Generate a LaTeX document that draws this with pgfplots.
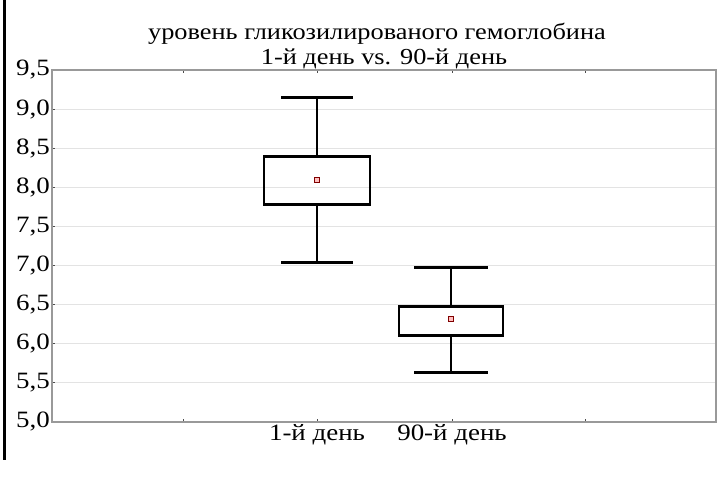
\documentclass[border=0pt]{standalone}
\usepackage{fontspec}
\setmainfont{Liberation Serif}[FakeStretch=1.15]
\usepackage{pgfplots}
\pgfplotsset{compat=1.18}
\usepgfplotslibrary{statistics}
\begin{document}
\begin{tikzpicture}
\path[use as bounding box] (0bp,0bp) rectangle (717bp,477bp);
\draw[line width=3bp] (4bp,477bp) -- (4bp,17bp);
\begin{axis}[
  at={(52bp,55bp)}, anchor=south west,
  scale only axis, width=664bp, height=352bp,
  xmin=0.52, xmax=7.16, ymin=5, ymax=9.5,
  ytick={5.0,5.5,6.0,6.5,7.0,7.5,8.0,8.5,9.0,9.5},
  xtick={1.83,3.17,4.52,5.85},
  xticklabels={,1-й день,90-й день,},
  xtick pos=both, ytick pos=left,
  tick align=inside,
  major tick length=3bp,
  tick style={black!70, line width=0.8bp},
  axis line style={gray!80, line width=1.5bp},
  ymajorgrids, grid style={gray!22, line width=1bp},
  boxplot/draw direction=y,
  /pgf/number format/assume math mode=true,
  /pgf/number format/.cd, use comma, fixed, fixed zerofill, precision=1,
  /pgfplots/.cd,
  ticklabel style={font=\fontsize{23.5}{23.5}\selectfont},
  yticklabel style={inner sep=1bp, xshift=-1bp},
  xticklabel style={inner sep=1bp, yshift=-1bp},
]
\addplot[black, line width=2.8bp, boxplot prepared={
  draw position=3.17, lower whisker=7.04, lower quartile=7.78,
  median=7.78, upper quartile=8.39, upper whisker=9.15,
  box extend=1.06, whisker extend=0.72}] coordinates {};
\addplot[black, line width=2.8bp, boxplot prepared={
  draw position=4.51, lower whisker=5.63, lower quartile=6.11,
  median=6.11, upper quartile=6.48, upper whisker=6.98,
  box extend=1.04, whisker extend=0.74}] coordinates {};
\addplot[only marks, mark=square*, mark size=2.6bp,
  mark options={draw=red!50!black, fill=red!25, line width=0.9bp}]
  coordinates {(3.17,8.09) (4.51,6.32)};
\end{axis}
\node[anchor=base, font=\fontsize{23}{23}\selectfont] at (377bp,437bp) {уровень гликозилированого гемоглобина};
\node[anchor=base, font=\fontsize{23}{23}\selectfont] at (384bp,412bp) {1-й день vs. 90-й день};
\end{tikzpicture}
\end{document}
